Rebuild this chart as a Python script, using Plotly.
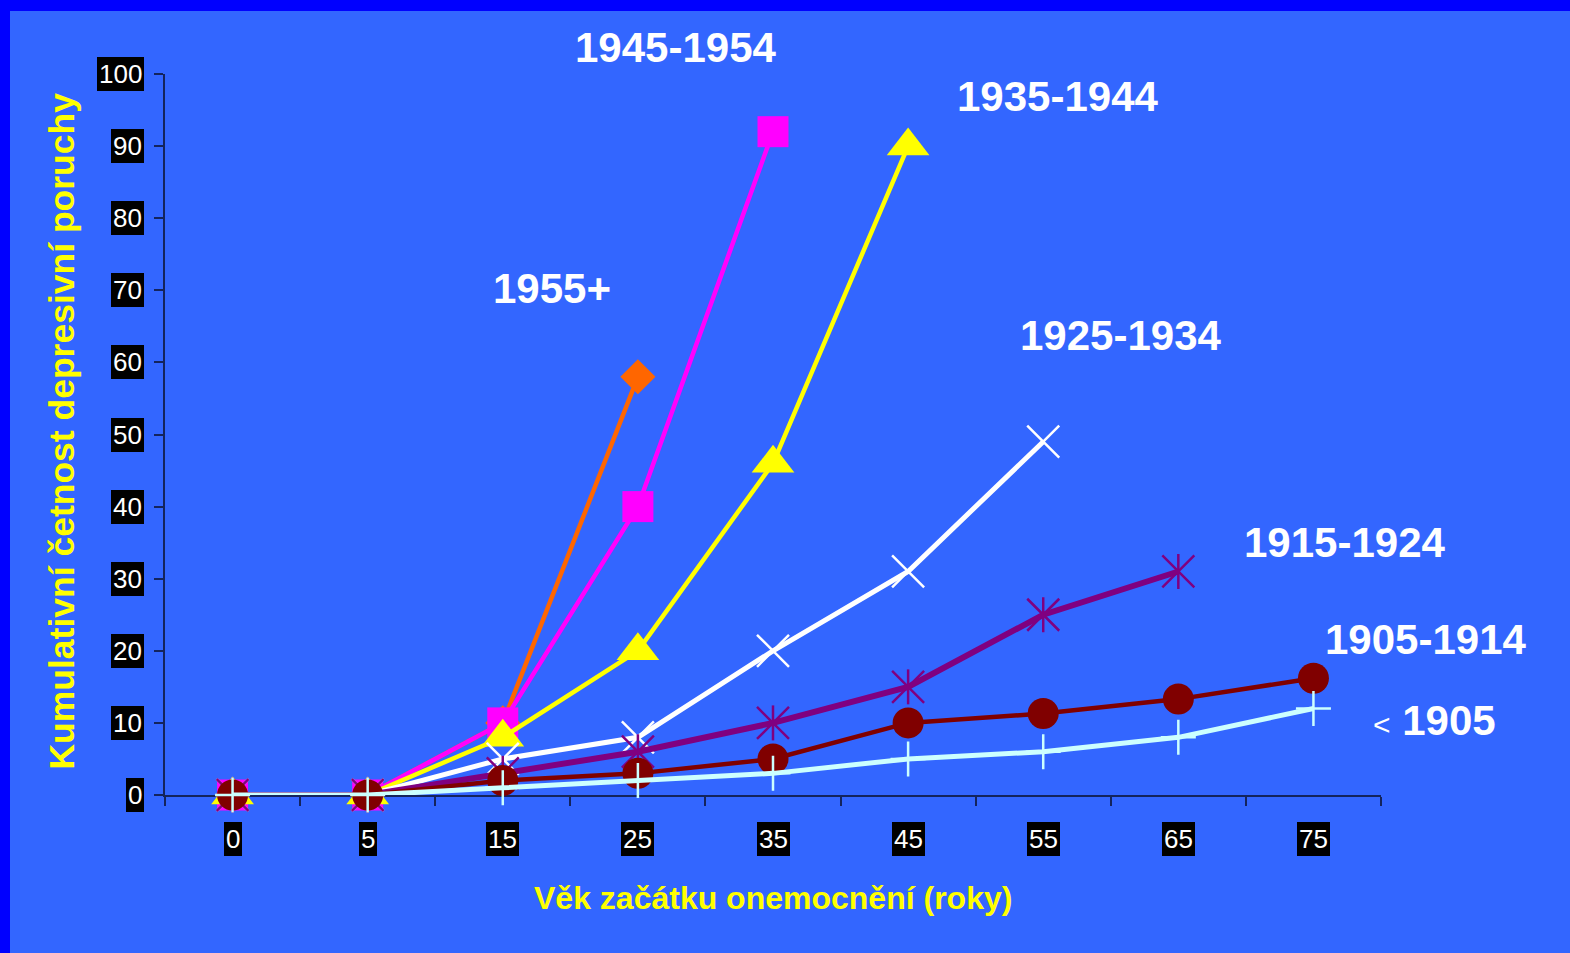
import plotly.graph_objects as go

# ---- data -------------------------------------------------------------
ages = ["0", "5", "15", "25", "35", "45", "55", "65", "75"]
y_ticks = [0, 10, 20, 30, 40, 50, 60, 70, 80, 90, 100]

cohorts = ["1955+", "1945-1954", "1935-1944", "1925-1934",
           "1915-1924", "1905-1914", "< 1905"]

c1955 = [0, 0, 10, 58]
c1945 = [0, 0, 10, 40, 92]
c1935 = [0, 0, 8, 20, 46, 90]
c1925 = [0, 0, 5, 8, 20, 31, 49]
c1915 = [0, 0, 3, 6, 10, 15, 25, 31]
c1905 = [0, 0, 2, 3, 5, 10, 11.3, 13.3, 16.2]
c1900 = [0, 0, 1, 2, 3, 5, 6, 8, 12]

x_title = "Věk začátku onemocnění (roky)"
y_title = "Kumulativní četnost depresivní poruchy"

# ---- styling ----------------------------------------------------------
FONT = "Liberation Sans, Arial, Helvetica, sans-serif"
BG = "#3366FF"
FRAME = "#0000FF"
AX = "#14245C"

W, H = 1570, 953
ML, MR, MT, MB = 165, 189, 74, 158
PW, PH = W - ML - MR, H - MT - MB
Y_MAX = 100

fig = go.Figure()


def add_series(values, color, lw, symbol, size, mline=0, extra=None):
    xs = ages[:len(values)]
    fig.add_trace(go.Scatter(
        x=xs, y=values, mode="lines+markers",
        line=dict(color=color, width=lw),
        marker=dict(symbol=symbol, size=size, color=color,
                    line=dict(color=color, width=mline)),
        cliponaxis=False, hoverinfo="x+y",
    ))
    if extra is not None:
        sym2, size2 = extra
        fig.add_trace(go.Scatter(
            x=xs, y=values, mode="markers",
            marker=dict(symbol=sym2, size=size2, color=color,
                        line=dict(color=color, width=mline)),
            cliponaxis=False, hoverinfo="skip",
        ))


add_series(c1955, "#FF6600", 4.5, "diamond", 27)
add_series(c1945, "#FF00FF", 4.5, "square", 31)
add_series(c1935, "#FFFF00", 4.5, "triangle-up", 37)
add_series(c1925, "#FFFFFF", 5, "x-thin", 32, mline=2.5)
add_series(c1915, "#800080", 6, "x-thin", 32, mline=2.5, extra=("line-ns", 25))
add_series(c1905, "#800000", 4.5, "circle", 31)
add_series(c1900, "#CCFFFF", 5, "cross-thin", 25, mline=2.5)

annotations = []

# tick labels on black boxes
for v in y_ticks:
    annotations.append(dict(
        x=0, xref="paper", xanchor="right", xshift=-21,
        y=v, yref="y", yanchor="middle",
        text=str(v), showarrow=False, bgcolor="black", borderpad=2,
        borderwidth=0, font=dict(family=FONT, size=26, color="white")))
for i, a in enumerate(ages):
    annotations.append(dict(
        x=i, xref="x", xanchor="center",
        y=0, yref="paper", yanchor="middle", yshift=-44,
        text=a, showarrow=False, bgcolor="black", borderpad=2,
        borderwidth=0, font=dict(family=FONT, size=26, color="white")))

# axis titles
annotations.append(dict(
    x=0.5, xref="paper", y=0, yref="paper", yanchor="middle", yshift=-103,
    text=x_title, showarrow=False,
    font=dict(family=FONT, size=32, color="#FFFF00", weight="bold")))
annotations.append(dict(
    x=0, xref="paper", xanchor="center", xshift=-103,
    y=0.504, yref="paper", yanchor="middle", textangle=-90,
    text=y_title, showarrow=False,
    font=dict(family=FONT, size=35.5, color="#FFFF00", weight="bold")))

# cohort labels, placed by category index and value scale
label_pos = [
    (2.365, 70.3), (3.275, 103.7), (6.102, 96.9), (6.569, 63.7),
    (8.227, 35.0), (8.827, 21.6), (8.893, 10.4),
]
n_cat = len(ages)
for name, (lx, ly) in zip(cohorts, label_pos):
    if name.startswith("<"):
        txt = ("<span style='font-weight:normal;font-size:30px'>&lt;</span>"
               + name[1:])
    else:
        txt = name
    annotations.append(dict(
        x=(lx + 0.5) / n_cat, xref="paper", y=ly / Y_MAX, yref="paper",
        xanchor="center", yanchor="middle",
        text=txt, showarrow=False,
        font=dict(family=FONT, size=42, color="white", weight="bold")))

# dark frame strips along the left and top edges
shapes = [
    dict(type="rect", xref="paper", yref="paper", layer="below",
         x0=-ML / PW, x1=(10 - ML) / PW, y0=-MB / PH, y1=(H - MB) / PH + 0.01,
         fillcolor=FRAME, line=dict(width=0)),
    dict(type="rect", xref="paper", yref="paper", layer="below",
         x0=-ML / PW, x1=(W - ML) / PW + 0.01, y0=(H - MB - 11) / PH,
         y1=(H - MB) / PH + 0.01, fillcolor=FRAME, line=dict(width=0)),
]

fig.update_layout(
    width=W, height=H,
    margin=dict(l=ML, r=MR, t=MT, b=MB, pad=0, autoexpand=False),
    paper_bgcolor=BG, plot_bgcolor=BG,
    showlegend=False,
    annotations=annotations,
    shapes=shapes,
    xaxis=dict(
        type="category", categoryorder="array", categoryarray=ages,
        range=[-0.5, len(ages) - 0.5], showline=True, linecolor=AX,
        linewidth=2, ticks="outside", ticklen=9, tickwidth=2, tickcolor=AX,
        tickson="boundaries", showticklabels=False, showgrid=False,
        zeroline=False, layer="below traces", fixedrange=True),
    yaxis=dict(
        range=[0, Y_MAX], tickvals=y_ticks, showline=True, linecolor=AX,
        linewidth=2, ticks="outside", ticklen=9, tickwidth=2, tickcolor=AX,
        showticklabels=False, showgrid=False, zeroline=False,
        layer="below traces", fixedrange=True),
)

fig.write_html("out.html", config={"displayModeBar": False})
